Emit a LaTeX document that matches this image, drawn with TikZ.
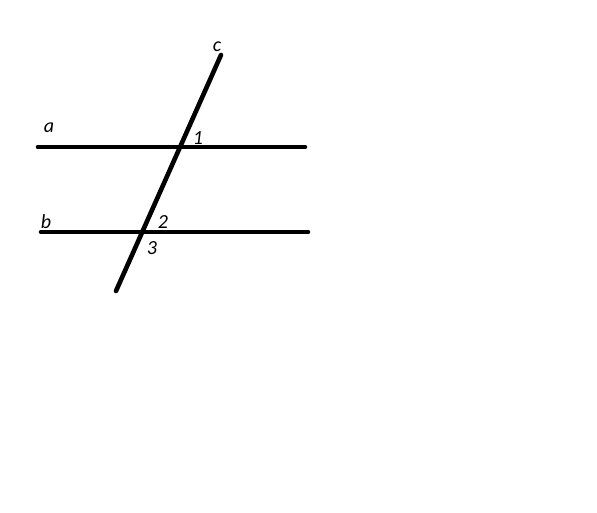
\documentclass[tikz,border=0pt]{standalone}
\usepackage{fontspec}
\setmainfont{Carlito}
\usepackage{tikz}

\begin{document}
\begin{tikzpicture}[x=1pt, y=-1pt, line width=4.6pt, line cap=round, label node/.style={font=\fontsize{20}{20}\selectfont\itshape, inner sep=0pt}]
            \useasboundingbox (0,0) rectangle (597,513);
            \coordinate (a1) at (38,147);
            \coordinate (a2) at (305,147);
            \coordinate (b1) at (41,232);
            \coordinate (b2) at (308,232);
            \coordinate (c1) at (116,291);
            \coordinate (c2) at (221,55);

            \node[label node] (c) at (217,47) {c};
            \node[label node] (a) at (49,128) {a};
            \node[label node] (1) at (198,138) {1};
            \node[label node] (b) at (46,222) {b};
            \node[label node] (2) at (163,222) {2};
            \node[label node] (3) at (152,248) {3};

            \path[draw]
                (a1) edge (a2)
                (b1) edge (b2)
                (c1) edge (c2);
        \end{tikzpicture}
\end{document}
